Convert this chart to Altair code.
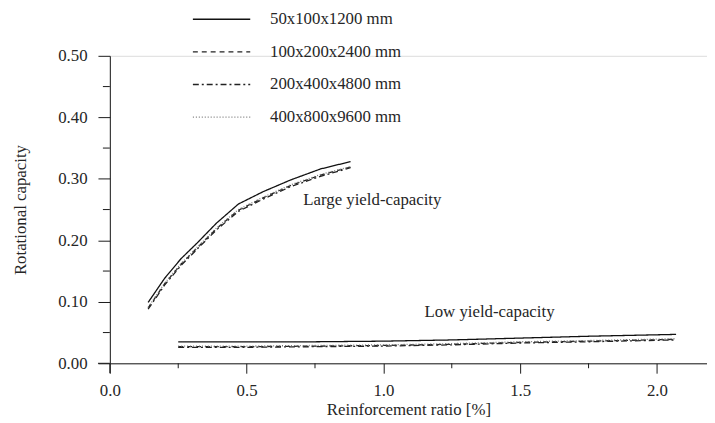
import altair as alt
import pandas as pd

# ---- data ----
series = ["50x100x1200 mm", "100x200x2400 mm", "200x400x4800 mm", "400x800x9600 mm"]

large_x = [0.14, 0.20, 0.26, 0.32, 0.39, 0.47, 0.56, 0.66, 0.77, 0.88]
large_s1 = [0.099, 0.138, 0.170, 0.196, 0.228, 0.259, 0.279, 0.298, 0.316, 0.328]
large_s2 = [0.090, 0.129, 0.161, 0.188, 0.219, 0.249, 0.269, 0.289, 0.306, 0.319]
large_s3 = [0.088, 0.127, 0.159, 0.186, 0.217, 0.247, 0.267, 0.287, 0.304, 0.318]
large_s4 = [0.091, 0.130, 0.162, 0.189, 0.220, 0.250, 0.270, 0.290, 0.307, 0.320]

low_x = [0.25, 0.50, 0.75, 1.00, 1.25, 1.50, 1.75, 2.07]
low_s1 = [0.035, 0.035, 0.035, 0.036, 0.038, 0.041, 0.044, 0.047]
low_s2 = [0.027, 0.027, 0.028, 0.029, 0.031, 0.034, 0.036, 0.039]
low_s3 = [0.026, 0.026, 0.027, 0.028, 0.030, 0.033, 0.035, 0.038]
low_s4 = [0.028, 0.028, 0.029, 0.030, 0.032, 0.035, 0.037, 0.040]

ann_text = ["Large yield-capacity", "Low yield-capacity"]
ann_x = [0.707, 1.15]
ann_y = [0.265, 0.083]

x_ticks = [0.0, 0.5, 1.0, 1.5, 2.0]
x_minor = [0.25, 0.75, 1.25, 1.75]
y_ticks = [0.0, 0.1, 0.2, 0.3, 0.4, 0.5]
y_minor = [0.05, 0.15, 0.25, 0.35, 0.45]

# ---- build tables ----
rows = []
for name, ys in zip(series, [large_s1, large_s2, large_s3, large_s4]):
    for xv, yv in zip(large_x, ys):
        rows.append({"series": name, "group": "large", "x": xv, "y": yv})
for name, ys in zip(series, [low_s1, low_s2, low_s3, low_s4]):
    for xv, yv in zip(low_x, ys):
        rows.append({"series": name, "group": "low", "x": xv, "y": yv})
df = pd.DataFrame(rows)

ann = pd.DataFrame({"text": ann_text, "x": ann_x, "y": ann_y})
leg = pd.DataFrame({"series": series, "row": list(range(len(series)))})
xm = pd.DataFrame({"v": x_minor})
ym = pd.DataFrame({"v": y_minor})

W, H = 604, 311
FONT = "Liberation Serif"
INK = "#1a1a1a"
TXT = "#262626"

dash_scale = alt.Scale(domain=series, range=[[1, 0], [5, 4], [6, 3, 2, 3], [1, 2]])
color_scale = alt.Scale(domain=series, range=["#111111", "#222222", "#222222", "#777777"])

xs = alt.Scale(domain=[0, 2.183], nice=False, zero=False)
ys_ = alt.Scale(domain=[0, 0.5], nice=False)

x_axis = alt.Axis(values=x_ticks, format=".1f", tickSize=10, labelPadding=10,
                  title="Reinforcement ratio  [%]", titlePadding=3, grid=False,
                  domainColor=INK, tickColor=INK, labelColor=TXT, titleColor=TXT,
                  labelFont=FONT, titleFont=FONT, labelFontSize=17, titleFontSize=17,
                  titleFontWeight="normal", labelFlush=False)
y_axis = alt.Axis(values=y_ticks, format=".2f", tickSize=12, labelPadding=11,
                  title="Rotational capacity", titlePadding=29, grid=False,
                  domainColor=INK, tickColor=INK, labelColor=TXT, titleColor=TXT,
                  labelFont=FONT, titleFont=FONT, labelFontSize=17, titleFontSize=17,
                  titleFontWeight="normal", labelFlush=False)

lines = alt.Chart(df).mark_line(strokeWidth=1.3).encode(
    x=alt.X("x:Q", scale=xs, axis=x_axis),
    y=alt.Y("y:Q", scale=ys_, axis=y_axis),
    strokeDash=alt.StrokeDash("series:N", scale=dash_scale, legend=None),
    color=alt.Color("series:N", scale=color_scale, legend=None),
    detail="group:N",
    order="x:Q",
)

texts = alt.Chart(ann).mark_text(font=FONT, fontSize=17, align="left",
                                 baseline="middle", color=TXT).encode(
    x="x:Q", y="y:Q", text="text:N")

xminor = alt.Chart(xm).mark_rule(color=INK, strokeWidth=1).encode(
    x="v:Q", y=alt.value(H), y2=alt.value(H + 5))
yminor = alt.Chart(ym).mark_rule(color=INK, strokeWidth=1).encode(
    y="v:Q", x=alt.value(-7), x2=alt.value(0))

overhang_x = alt.Chart(pd.DataFrame({"a": [0]})).mark_rule(color=INK).encode(
    x=alt.value(-12), x2=alt.value(0), y=alt.value(H))
overhang_y = alt.Chart(pd.DataFrame({"a": [0]})).mark_rule(color=INK).encode(
    x=alt.value(0), y=alt.value(H), y2=alt.value(H + 10))

leg_base = alt.Chart(leg).transform_calculate(py="-37 + 33 * datum.row")
leg_lines = leg_base.mark_rule(strokeWidth=1.3).encode(
    x=alt.value(84), x2=alt.value(142),
    y=alt.Y("py:Q", scale=None, axis=None),
    strokeDash=alt.StrokeDash("series:N", scale=dash_scale, legend=None),
    color=alt.Color("series:N", scale=color_scale, legend=None),
)
leg_text = leg_base.mark_text(font=FONT, fontSize=17, align="left",
                              baseline="middle", color=TXT).encode(
    x=alt.value(162),
    y=alt.Y("py:Q", scale=None, axis=None),
    text="series:N",
)

chart = alt.layer(lines, texts, xminor, yminor, overhang_x, overhang_y,
                  leg_lines, leg_text).properties(
    width=W, height=H,
    autosize=alt.AutoSizeParams(type="none"),
    padding={"left": 103, "top": 46, "right": 0, "bottom": 57},
).configure_view(stroke=None).configure(background="white")

chart.save("out.html", embed_options={"renderer": "svg", "actions": False})
